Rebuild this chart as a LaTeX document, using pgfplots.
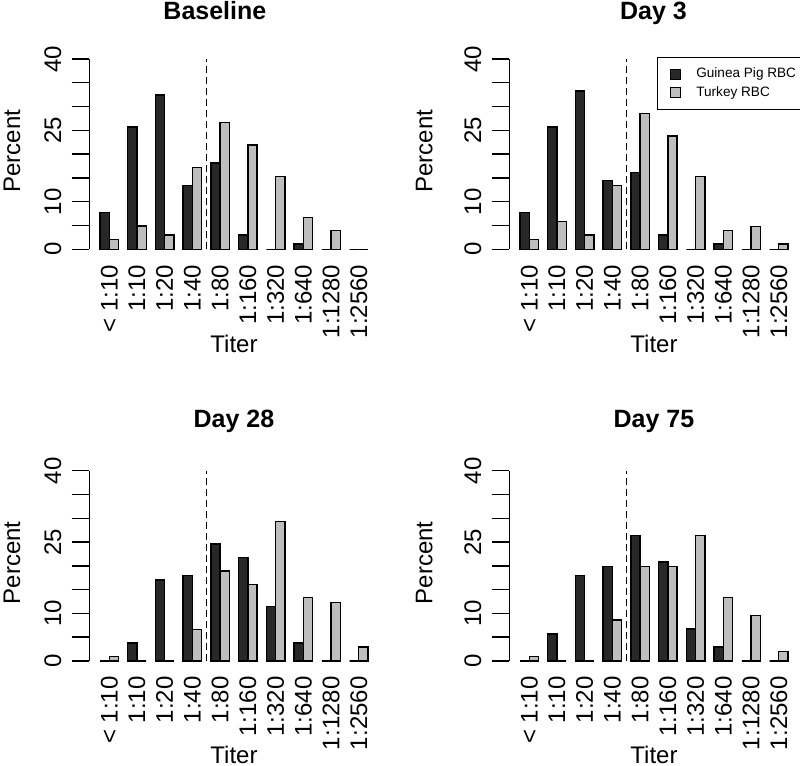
\documentclass[border=0pt]{standalone}
\usepackage{fontspec}
\setmainfont{Liberation Sans}
\usepackage{pgfplots}
\pgfplotsset{compat=1.18}
\definecolor{gp}{HTML}{282828}
\definecolor{tk}{HTML}{BEBEBE}
\newcommand{\lab}{\fontsize{12}{14}\selectfont}
\pgfplotsset{
 every axis title shift=0pt,
 panel/.style={
  width=144.7pt, height=102.75pt, scale only axis,
  xmin=-0.16, xmax=31.16, ymin=-1.6, ymax=41.6,
  axis x line*=bottom, axis y line*=left,
  x axis line style={draw=none}, y axis line style={draw=none},
  xtick={2,5,8,11,14,17,20,23,26,29},
  xticklabels={{< 1:10},1:10,1:20,1:40,1:80,1:160,1:320,1:640,1:1280,1:2560},
  x tick style={draw=none},
  ytick={0,5,...,40}, yticklabels={0,,10,,,25,,,40},
  y tick style={line width=0.7pt, black},
  tick align=outside, major tick length=8.8pt,
  xticklabel style={rotate=90, anchor=east, inner sep=0pt, font=\lab, xshift=5pt},
  yticklabel style={rotate=90, anchor=south, inner sep=0pt, font=\lab, yshift=5pt},
  /pgf/number format/assume math mode=true,
  xlabel={Titer}, xlabel style={at={(axis description cs:0.5,-0.463)}, anchor=base, font=\lab},
  ylabel={Percent}, ylabel style={anchor=center, font=\lab},
  title style={font=\bfseries\fontsize{12.5}{15}\selectfont, anchor=base},
  ybar, bar width=1, clip=false,
  every axis plot/.append style={bar shift=0pt, line width=0.7pt, draw=black},
 },
 gpbar/.style={fill=gp},
 tkbar/.style={fill=tk},
}
\begin{document}
\begin{tikzpicture}
\path[use as bounding box] (0,0) rectangle (400pt,383pt);
% Baseline
\begin{axis}[panel, at={(44.65pt,254.55pt)}, anchor=south west,
  title={Baseline}, title style={at={(axis description cs:0.434,1.153)}},
  ylabel style={at={(axis description cs:-0.267,0.515)}}]
\addplot[gpbar] coordinates {(1.5,7.7) (4.5,25.7) (7.5,32.4) (10.5,13.4) (13.5,18.1) (16.5,3.0) (19.5,0) (22.5,1.1) (25.5,0) (28.5,0)};
\addplot[tkbar] coordinates {(2.5,2.0) (5.5,4.9) (8.5,3.0) (11.5,17.2) (14.5,26.7) (17.5,21.9) (20.5,15.3) (23.5,6.7) (26.5,3.9) (29.5,0)};
\draw[line width=0.7pt] (axis cs:-0.16,0) -- (axis cs:-0.16,40);
\draw[line width=0.7pt, dash pattern=on 3.5pt off 2pt] (axis cs:12.5,0) -- (axis cs:12.5,40);
\end{axis}
% Day 3
\begin{axis}[panel, at={(254.65pt,254.55pt)}, anchor=south west,
  title={Day 3}, title style={at={(axis description cs:0.498,1.153)}},
  ylabel style={at={(axis description cs:-0.294,0.515)}},
  legend style={at={(axis description cs:0.5104,0.9727)}, anchor=north west, draw=black, line width=0.7pt,
    font=\fontsize{6.8}{8}\selectfont, inner xsep=2.5pt, inner ysep=4.5pt, row sep=1.5pt,
    nodes={inner sep=0.6pt}},
  legend cell align=left]
\addplot[gpbar, legend image code/.code={\draw[fill=gp, line width=0.6pt] (3.5pt,-2.5pt) rectangle (8.5pt,2.5pt); \path (0pt,0pt) (15.5pt,0pt);}] coordinates {(1.5,7.7) (4.5,25.7) (7.5,33.3) (10.5,14.4) (13.5,16.2) (16.5,3.0) (19.5,0) (22.5,1.1) (25.5,0) (28.5,0)};
\addlegendentry{Guinea Pig RBC}
\addplot[tkbar, legend image code/.code={\draw[fill=tk, line width=0.6pt] (3.5pt,-2.5pt) rectangle (8.5pt,2.5pt); \path (0pt,0pt) (15.5pt,0pt);}] coordinates {(2.5,2.0) (5.5,5.8) (8.5,3.0) (11.5,13.4) (14.5,28.6) (17.5,23.8) (20.5,15.3) (23.5,3.9) (26.5,4.8) (29.5,1.1)};
\addlegendentry{Turkey RBC}
\draw[line width=0.7pt] (axis cs:-0.16,0) -- (axis cs:-0.16,40);
\draw[line width=0.7pt, dash pattern=on 3.5pt off 2pt] (axis cs:12.5,0) -- (axis cs:12.5,40);
\end{axis}
% Day 28
\begin{axis}[panel, at={(44.65pt,48.7pt)}, anchor=south west,
  title={Day 28}, title style={at={(axis description cs:0.5,1.173)}},
  ylabel style={at={(axis description cs:-0.267,0.515)}}]
\addplot[gpbar] coordinates {(1.5,0) (4.5,3.8) (7.5,17.0) (10.5,18.0) (13.5,24.6) (16.5,21.8) (19.5,11.4) (22.5,3.8) (25.5,0) (28.5,0)};
\addplot[tkbar] coordinates {(2.5,1.0) (5.5,0) (8.5,0) (11.5,6.6) (14.5,18.9) (17.5,16.1) (20.5,29.3) (23.5,13.3) (26.5,12.3) (29.5,2.9)};
\draw[line width=0.7pt] (axis cs:-0.16,0) -- (axis cs:-0.16,40);
\draw[line width=0.7pt, dash pattern=on 3.5pt off 2pt] (axis cs:12.5,0) -- (axis cs:12.5,40);
\end{axis}
% Day 75
\begin{axis}[panel, at={(254.65pt,48.7pt)}, anchor=south west,
  title={Day 75}, title style={at={(axis description cs:0.5,1.173)}},
  ylabel style={at={(axis description cs:-0.294,0.515)}}]
\addplot[gpbar] coordinates {(1.5,0) (4.5,5.7) (7.5,18.0) (10.5,19.9) (13.5,26.4) (16.5,20.8) (19.5,6.7) (22.5,2.9) (25.5,0) (28.5,0)};
\addplot[tkbar] coordinates {(2.5,1.0) (5.5,0) (8.5,0) (11.5,8.6) (14.5,19.9) (17.5,19.9) (20.5,26.4) (23.5,13.3) (26.5,9.5) (29.5,2.0)};
\draw[line width=0.7pt] (axis cs:-0.16,0) -- (axis cs:-0.16,40);
\draw[line width=0.7pt, dash pattern=on 3.5pt off 2pt] (axis cs:12.5,0) -- (axis cs:12.5,40);
\end{axis}
\end{tikzpicture}
\end{document}
